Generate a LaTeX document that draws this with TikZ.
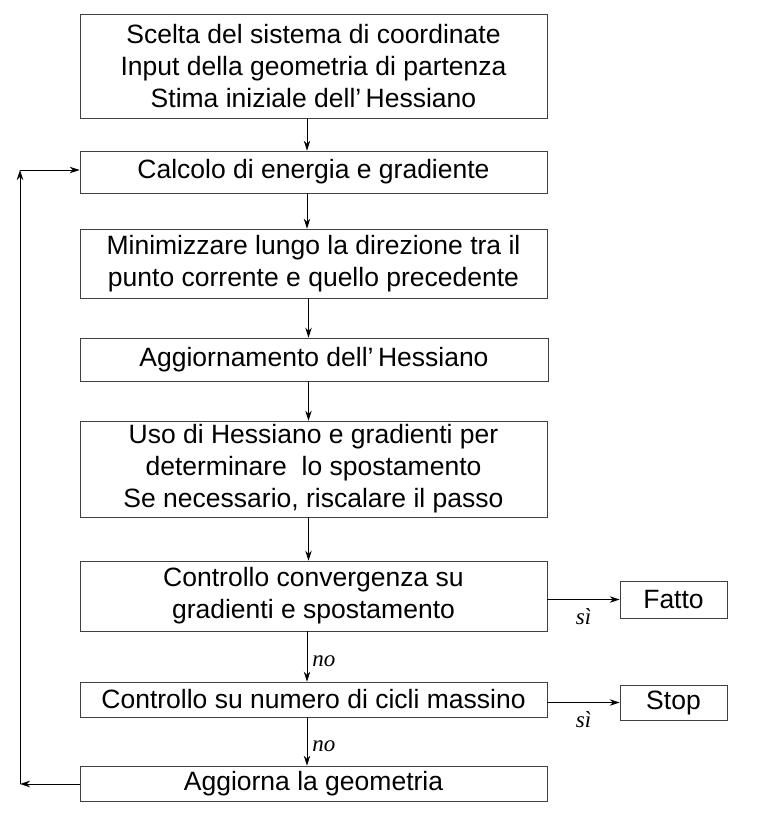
\documentclass[tikz,border=0pt]{standalone}
\usepackage{fontspec}
\setmainfont{Liberation Sans}
\newfontfamily\serifit{Liberation Serif}
\usetikzlibrary{arrows.meta}
\begin{document}
\begin{tikzpicture}[x=1pt,y=-1pt]

\tikzset{
	passo/.style={draw=black!75,line width=0.8pt,inner sep=0pt,align=center,
	  font=\fontsize{26.5}{32}\selectfont},
	freccia/.style={-{Stealth[length=10pt,width=6.5pt]},line width=0.9pt},
	etichetta/.style={font=\serifit\itshape\fontsize{23}{24}\selectfont,inner sep=0pt}
}
\useasboundingbox (0,0) rectangle (759,817);

%BLOCCHI
\node[passo,minimum width=467,minimum height=104] (scelta) at (313.5,66)
  {Scelta del sistema di coordinate\\Input della geometria di partenza\\Stima iniziale dell’\,Hessiano};
\node[passo,minimum width=467,minimum height=42] (calcolo) at (313.5,172) {Calcolo di energia e gradiente};
\node[passo,minimum width=467,minimum height=69] (minimo) at (313.5,263.5)
  {Minimizzare lungo la direzione tra il\\punto corrente e quello precedente};
\node[passo,minimum width=468,minimum height=43] (aggiorna) at (314,359.5) {Aggiornamento dell’\,Hessiano};
\node[passo,minimum width=467,minimum height=96] (uso) at (313.5,469)
  {Uso di Hessiano e gradienti per\\determinare \ lo spostamento\\Se necessario, riscalare il passo};
\node[passo,minimum width=467,minimum height=70] (convergenza) at (313.5,596)
  {Controllo convergenza su\\gradienti e spostamento};
\node[passo,minimum width=467,minimum height=35] (cicli) at (313.5,699.5) {Controllo su numero di cicli massino};
\node[passo,minimum width=467,minimum height=35] (geometria) at (313.5,783.5) {Aggiorna la geometria};
\node[passo,minimum width=107,minimum height=37] (fatto) at (673.5,599.5) {Fatto};
\node[passo,minimum width=107,minimum height=35] (stop) at (673.5,702.5) {Stop};

%FRECCE
\draw[freccia] ([xshift=-6.5]scelta.south) -- ([xshift=-6.5]calcolo.north);
\draw[freccia] ([xshift=-6.5]calcolo.south) -- ([xshift=-6.5]minimo.north);
\draw[freccia] ([xshift=-5]minimo.south) -- ([xshift=-5]aggiorna.north -| minimo.south);
\draw[freccia] ([xshift=-5]aggiorna.south -| minimo.south) -- ([xshift=-5]uso.north);
\draw[freccia] ([xshift=-5]uso.south) -- ([xshift=-5]convergenza.north);
\draw[freccia] ([xshift=-6.5]convergenza.south) -- ([xshift=-6.5]cicli.north)
  node[etichetta,pos=0.6,right=5pt] {no};
\draw[freccia] ([xshift=-6.5]cicli.south) -- ([xshift=-6.5]geometria.north)
  node[etichetta,pos=0.6,right=5pt] {no};
\draw[freccia] (convergenza.east |- fatto.west) -- (fatto.west)
  node[etichetta,pos=0.5,below=9pt] {sì};
\draw[freccia] (cicli.east |- stop.west) -- (stop.west)
  node[etichetta,pos=0.5,below=9pt] {sì};

%CICLO
\coordinate (giu) at (20,784);
\coordinate (su) at (20,170);
\draw[freccia] (geometria.west |- giu) -- (giu);
\draw[freccia] (giu) -- (su);
\draw[freccia] (su) -- (calcolo.west |- su);

\end{tikzpicture}
\end{document}
